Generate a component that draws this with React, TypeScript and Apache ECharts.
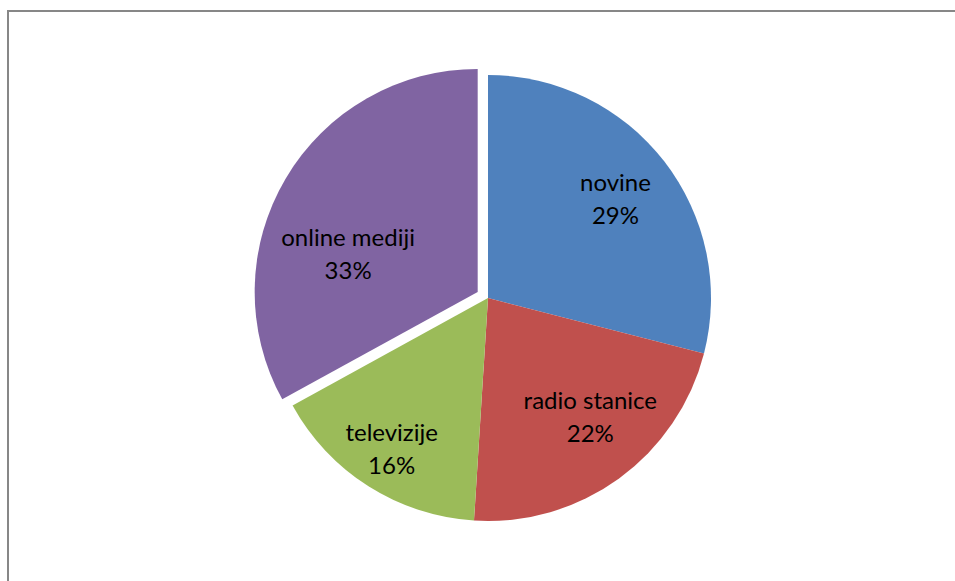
import React, { useEffect, useRef } from "react";
import * as echarts from "echarts";

const categories = ["novine", "radio stanice", "televizije", "online mediji"];
const values = [29, 22, 16, 33];
const colors = ["#4F81BD", "#C0504D", "#9BBB59", "#8064A2"];
const exploded = [false, false, false, true];
// label nudges from the default "inside" spot (styling only)
const labelNudge = [
  [37, -30],
  [35, 25],
  [-35, 53],
  [-31, 19],
];

export default function App() {
  const ref = useRef<HTMLDivElement>(null);
  useEffect(() => {
    const chart = echarts.init(ref.current!, null, { renderer: "svg" });
    chart.setOption({
      animation: false,
      backgroundColor: "#ffffff",
      graphic: [
        {
          type: "polyline",
          shape: { points: [[8, 581], [8, 11], [955, 11]] },
          style: { stroke: "#878787", lineWidth: 2, fill: "none" },
          silent: true,
        },
      ],
      series: [
        {
          type: "pie",
          center: [488, 298],
          radius: 223,
          startAngle: 90,
          clockwise: true,
          selectedMode: "single",
          selectedOffset: 12,
          emphasis: { disabled: true, scale: false },
          avoidLabelOverlap: false,
          labelLine: { show: false },
          label: {
            show: true,
            position: "inside",
            color: "#000000",
            fontFamily: "Lato",
            fontSize: 24,
            lineHeight: 33,
            align: "center",
            formatter: (p: any) => `${p.name}\n${Math.round(p.percent)}%`,
          },
          labelLayout: (p: any) => ({
            dx: labelNudge[p.dataIndex][0],
            dy: labelNudge[p.dataIndex][1],
          }),
          data: categories.map((name, i) => ({
            name,
            value: values[i],
            selected: exploded[i],
            itemStyle: { color: colors[i], borderWidth: 0 },
            select: { itemStyle: { color: colors[i], borderWidth: 0 } },
          })),
        },
      ],
    });
    return () => chart.dispose();
  }, []);
  return (
    <div
      ref={ref}
      style={{ position: "absolute", left: 0, top: 0, width: 955, height: 581 }}
    />
  );
}
